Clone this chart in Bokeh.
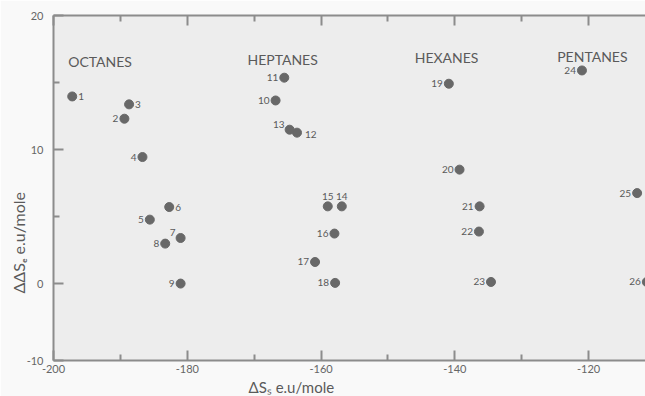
from bokeh.plotting import figure
from bokeh.models import Range1d, LinearAxis, FixedTicker, Title, ColumnDataSource
from bokeh.embed import file_html
from bokeh.resources import INLINE
from bokeh.core.properties import value

# ---- data ----
ids = [str(i) for i in range(1, 27)]
ds_s = [-197.2, -189.4, -188.7, -186.7, -185.6, -182.7, -181.0, -183.3, -181.0,
        -166.8, -165.5, -163.6, -164.7, -156.9, -159.0, -158.0, -160.9, -157.9,
        -140.9, -139.3, -136.3, -136.4, -134.6, -121.0, -112.75, -111.3]
dds_e = [13.96, 12.3, 13.37, 9.44, 4.77, 5.71, 3.40, 2.98, 0.0,
         13.66, 15.36, 11.26, 11.48, 5.76, 5.76, 3.73, 1.61, 0.05,
         14.91, 8.50, 5.76, 3.88, 0.12, 15.9, 6.75, 0.12]
label_side = ["r", "l", "r", "l", "l", "r", "tl", "l", "l",
              "l", "l", "br", "tl", "t", "t", "l", "l", "l",
              "l", "l", "l", "l", "l", "l", "l", "l"]

groups = ["OCTANES", "HEPTANES", "HEXANES", "PENTANES"]
group_x = [-197.8, -171.0, -146.0, -124.7]
group_y = [16.6, 16.7, 16.85, 16.95]

x_ticks = [-200, -180, -160, -140, -120]
x_minor = [-190, -170, -150, -130]
x_tick_labels = ["-200", "-180", "-160", "-140", "-120"]
y_ticks = [-5.74, 0, 10, 20]
y_minor = [5, 15]
y_tick_labels = ["-10", "0", "10", "20"]

x_title = "\u0394S\u209b e.u/mole"
y_title = "\u0394\u0394S\u2091 e.u/mole"

FONT = "Lato"
AX = "#8c8c8c"
TXT = "#5a5a5a"

p = figure(width=645, height=396, output_backend="svg", toolbar_location=None,
           x_range=Range1d(-200, -111.5), y_range=Range1d(-5.74, 20),
           min_border_left=53, min_border_right=0, min_border_top=15,
           min_border_bottom=36)
p.background_fill_color = "#ededed"
p.border_fill_color = "#f9f9f9"
p.outline_line_color = None
p.grid.visible = False

def style_axis(ax, ticks, minor, labels):
    ax.ticker = FixedTicker(ticks=ticks, minor_ticks=minor)
    ax.major_label_overrides = {t: l for t, l in zip(ticks, labels)}
    ax.axis_line_color = AX
    ax.axis_line_width = 2
    ax.major_tick_line_color = AX
    ax.major_tick_line_width = 2
    ax.minor_tick_line_color = AX
    ax.minor_tick_line_width = 2
    ax.major_tick_in = 10
    ax.major_tick_out = 0
    ax.minor_tick_in = 6
    ax.minor_tick_out = 0
    ax.major_label_text_font = FONT
    ax.major_label_text_font_size = "11px"
    ax.major_label_text_color = "#666666"

style_axis(p.xaxis[0], x_ticks, x_minor, x_tick_labels)
p.xaxis[0].major_label_standoff = 4
style_axis(p.yaxis[0], y_ticks, y_minor, y_tick_labels)
p.yaxis[0].major_label_standoff = 10

top = LinearAxis()
style_axis(top, x_ticks, x_minor, ["" for _ in x_ticks])
top.major_label_text_font_size = "1px"
top.major_label_standoff = 0
p.add_layout(top, "above")

src = ColumnDataSource(dict(x=ds_s, y=dds_e, id=ids, side=label_side))
p.scatter("x", "y", source=src, size=9, color="#686868")

offsets = {"r": (6, 0, "left", "middle"), "l": (-6, 0, "right", "middle"),
           "tl": (-5, -5, "right", "middle"), "br": (8, 2, "left", "middle"),
           "t": (0, -10, "center", "middle")}
for side, (dx, dy, al, bl) in offsets.items():
    idx = [i for i, s in enumerate(label_side) if s == side]
    if not idx:
        continue
    s = ColumnDataSource(dict(x=[ds_s[i] for i in idx], y=[dds_e[i] for i in idx],
                              t=[ids[i] for i in idx]))
    p.text("x", "y", text="t", source=s, x_offset=dx, y_offset=dy,
           text_align=al, text_baseline=bl, text_font=value(FONT),
           text_font_size="10px", text_color=TXT)

gs = ColumnDataSource(dict(x=group_x, y=group_y, t=groups))
p.text("x", "y", text="t", source=gs, text_align="left", text_baseline="middle",
       text_font=value(FONT), text_font_size="14px", text_color=TXT)

# axis titles as side titles
p.add_layout(Title(text=x_title, align="left", offset=195, standoff=0,
                   text_font=FONT, text_font_size="15px", text_color=TXT,
                   text_font_style="normal"), "below")
p.add_layout(Title(text=y_title, align="left", offset=67, standoff=-9,
                   text_font=FONT, text_font_size="16px", text_color=TXT,
                   text_font_style="normal"), "left")

open("out.html", "w").write(file_html(p, INLINE))
